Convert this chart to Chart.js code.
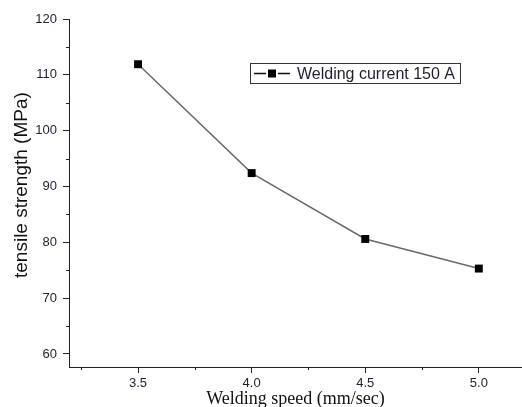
<!DOCTYPE html>
<html>
<head>
<meta charset="utf-8">
<script src="https://cdn.jsdelivr.net/npm/chart.js@4.4.1/dist/chart.umd.min.js"></script>
<style>
  html, body { margin: 0; padding: 0; background: #fff; }
  #wrap { width: 522px; height: 407px; }
</style>
</head>
<body>
<div id="wrap"><canvas id="chart" width="522" height="407"></canvas></div>
<script>
const speeds = [3.5, 4.0, 4.5, 5.0];
const strength = [111.9, 92.4, 80.6, 75.3];
const seriesLabel = 'Welding current 150 A';
const xMajorTicks = [3.5, 4.0, 4.5, 5.0];
const xMinorTicks = [3.25, 3.75, 4.25, 4.75];
const yMajorTicks = [60, 70, 80, 90, 100, 110, 120];
const yMinorTicks = [65, 75, 85, 95, 105, 115];

const axisColor = '#222';
const textColor = '#1e1e2e';
const sans = "'Liberation Sans', Arial, sans-serif";
const serif = "'Liberation Serif', 'Times New Roman', serif";

// minor ticks are shorter than the major ones, Chart.js only has one tickLength
const minorTicks = {
  id: 'minorTicks',
  afterDraw(chart) {
    const { ctx, scales: { x, y } } = chart;
    ctx.save();
    ctx.strokeStyle = axisColor;
    ctx.lineWidth = 1;
    ctx.beginPath();
    xMinorTicks.forEach(v => {
      const px = Math.round(x.getPixelForValue(v)) + 0.5;
      ctx.moveTo(px, x.top);
      ctx.lineTo(px, x.top + 3);
    });
    yMinorTicks.forEach(v => {
      const py = Math.round(y.getPixelForValue(v)) + 0.5;
      ctx.moveTo(y.right - 3, py);
      ctx.lineTo(y.right, py);
    });
    ctx.stroke();
    ctx.restore();
  }
};

// boxed legend inside the plot: line + square marker + label
const boxLegend = {
  id: 'boxLegend',
  afterDraw(chart) {
    const { ctx } = chart;
    const ds = chart.data.datasets[0];
    const bx = 250, by = 63, bw = 210, bh = 20;
    ctx.save();
    ctx.strokeStyle = '#333';
    ctx.lineWidth = 1;
    ctx.strokeRect(bx + 0.5, by + 0.5, bw, bh);
    const cy = by + bh / 2 + 0.5;
    ctx.strokeStyle = '#111';
    ctx.lineWidth = 1.5;
    ctx.beginPath();
    ctx.moveTo(bx + 4, cy); ctx.lineTo(bx + 16, cy);
    ctx.moveTo(bx + 28, cy); ctx.lineTo(bx + 40, cy);
    ctx.stroke();
    ctx.fillStyle = '#000';
    ctx.fillRect(bx + 18, cy - 4, 8, 8);
    ctx.font = '16px ' + sans;
    ctx.fillStyle = textColor;
    ctx.textBaseline = 'middle';
    ctx.fillText(ds.label, bx + 47, cy + 1);
    ctx.restore();
  }
};

new Chart(document.getElementById('chart'), {
  type: 'line',
  data: {
    datasets: [{
      label: seriesLabel,
      data: speeds.map((s, i) => ({ x: s, y: strength[i] })),
      borderColor: '#6a6a6a',
      borderWidth: 1.5,
      tension: 0,
      pointStyle: 'rect',
      pointRadius: 5.6,
      pointBackgroundColor: '#000',
      pointBorderColor: '#000',
      pointBorderWidth: 0,
    }],
  },
  options: {
    responsive: false,
    animation: false,
    devicePixelRatio: 1,
    layout: { autoPadding: false, padding: { top: 19, right: 0, bottom: 0, left: 0 } },
    plugins: {
      legend: { display: false },
      tooltip: { enabled: false },
    },
    scales: {
      x: {
        type: 'linear',
        min: 3.196,
        max: 5.19,
        afterBuildTicks: s => { s.ticks = xMajorTicks.map(v => ({ value: v })); },
        afterFit: s => { s.height = 40; s.paddingLeft = 0; s.paddingRight = 0; },
        grid: { drawOnChartArea: false, tickLength: 6, color: axisColor },
        border: { color: axisColor, width: 1 },
        ticks: {
          font: { family: sans, size: 13 },
          color: textColor,
          padding: 3,
          maxRotation: 0,
          callback: v => Number(v).toFixed(1),
        },
        title: {
          display: true,
          text: 'Welding speed (mm/sec)',
          font: { family: serif, size: 18 },
          color: '#111',
          padding: { top: 0, bottom: -3 },
        },
      },
      y: {
        min: 57.67,
        max: 120,
        afterBuildTicks: s => { s.ticks = yMajorTicks.map(v => ({ value: v })); },
        afterFit: s => { s.width = 69; s.paddingTop = 0; s.paddingBottom = 0; },
        grid: { drawOnChartArea: false, tickLength: 6, color: axisColor },
        border: { color: axisColor, width: 1 },
        ticks: {
          font: { family: sans, size: 13 },
          color: textColor,
          padding: 6,
        },
        title: {
          display: true,
          // leading spaces nudge the centred title up a little, as in the source
          text: '   tensile strength (MPa)',
          font: { family: sans, size: 19 },
          color: '#111',
          padding: { top: 10, bottom: 0 },
        },
      },
    },
  },
  plugins: [minorTicks, boxLegend],
});
</script>
</body>
</html>
